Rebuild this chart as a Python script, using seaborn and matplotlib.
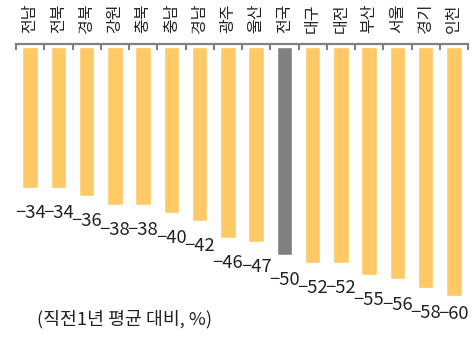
import matplotlib
matplotlib.use("Agg")
import matplotlib.pyplot as plt
import seaborn as sns
import numpy as np

regions = ["전남", "전북", "경북", "강원", "충북", "충남", "경남", "광주", "울산",
           "전국", "대구", "대전", "부산", "서울", "경기", "인천"]
values = [-34, -34, -36, -38, -38, -40, -42, -46, -47, -50, -52, -52, -55, -56, -58, -60]
highlight = "전국"
note = "(직전1년 평균 대비, %)"

sns.set_style("white")
plt.rcParams['font.family'] = ['Noto Sans CJK KR', 'DejaVu Sans']

bar_color = "#FFC966"
hi_color = "#808080"
palette = {r: (hi_color if r == highlight else bar_color) for r in regions}

fig = plt.figure(figsize=(4.76, 3.37), dpi=100)
ax = fig.add_axes([16/476, 1 - 333/337, 452/476, 289/337])

sns.barplot(x=regions, y=values, hue=regions, palette=palette, legend=False,
            width=0.55, ax=ax, saturation=1, zorder=1)

ax.set_xlim(-0.5, len(regions) - 0.5)
ax.set_ylim(-68.9, 0.7)

for s in ["left", "right", "bottom"]:
    ax.spines[s].set_visible(False)
ax.spines["top"].set_color("#808080")
ax.spines["top"].set_linewidth(1.6)

ax.xaxis.tick_top()
ax.set_xticks(range(len(regions)))
ax.set_xticklabels(regions, rotation=90, fontsize=11.5, color="#222222",
                   fontweight="light")
ax.set_xticks(np.arange(-0.5, len(regions)), minor=True)
ax.tick_params(axis="x", which="major", length=0, pad=8)
ax.tick_params(axis="x", which="minor", top=True, direction="in", length=4,
               width=1.5, color="#808080")
ax.set_yticks([])
ax.set_xlabel("")
ax.set_ylabel("")

for i, v in enumerate(values):
    y = max(v - 7.25, -65.6)
    ax.text(i, y, f"\u2212{abs(v)}", ha="center", va="baseline",
            fontsize=13.3, color="#222222", fontweight="light")

fig.text(124/476, 1 - 319/337, note, ha="center", va="center",
         fontsize=13.2, color="#222222", fontweight="light")

fig.savefig("out.png", dpi=100)
